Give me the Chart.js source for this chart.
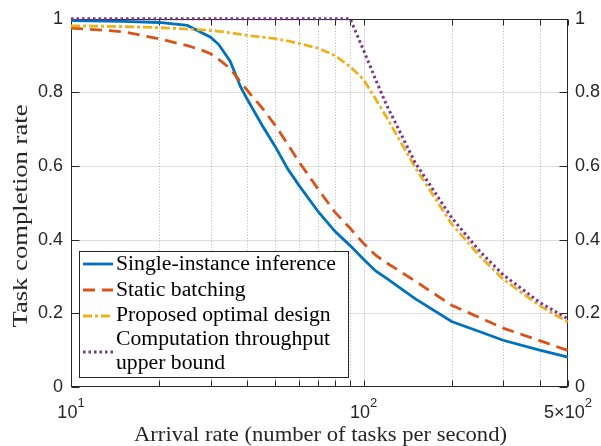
<!DOCTYPE html>
<html>
<head>
<meta charset="utf-8">
<script src="https://cdn.jsdelivr.net/npm/chart.js@4"></script>
<style>
    body { margin: 0; background: #fff; }
    #box { width: 601px; height: 446px; }
</style>
</head>
<body>
<div id="box"><canvas id="grafico"></canvas></div>

<script>
    // dati
    const rate = [10,15,20,25,28,30,32,35,38,40,45,50,55,60,70,80,90,100,110,120,150,200,250,300,400,500];
    const singleInst = [.995,.993,.99,.982,.962,.95,.93,.885,.815,.782,.711,.652,.593,.549,.476,.422,.384,.347,.315,.295,.24,.178,.15,.127,.10,.081];
    const staticBatch = [.975,.965,.946,.927,.915,.905,.89,.865,.828,.806,.758,.71,.66,.613,.537,.474,.431,.39,.358,.337,.288,.222,.188,.16,.126,.099];
    const proposed = [.981,.979,.976,.972,.97,.968,.966,.962,.958,.955,.95,.946,.94,.933,.92,.90,.87,.835,.782,.732,.597,.443,.355,.293,.221,.176];
    const upperBound = [1,1,1,1,1,1,1,1,1,1,1,1,1,1,1,1,1,.915,.835,.765,.61,.46,.368,.305,.23,.185];

    const serieNomi = ["Single-instance inference","Static batching","Proposed optimal design","Computation throughput upper bound"];
    const xTickVals = [10,20,30,40,50,60,70,80,90,100,200,300,400,500];
    const xTickBase = {10:["10","1"], 100:["10","2"], 500:["5\u00d710","2"]};
    const yTickVals = [0,0.2,0.4,0.6,0.8,1];

    const blu = "#0072BD", arancio = "#D95319", giallo = "#EDB120", viola = "#7E2F8E";
    const scuro = "#262626";
    const trattoArancio = [12,7], trattoGiallo = [9,3,3,3], trattoViola = [2.5,3];

    function punti(arr){
        return rate.map(function(x,i){ return {x:x, y:arr[i]}; });
    }

    function linea(ctx,x1,y1,x2,y2){
        ctx.beginPath(); ctx.moveTo(x1,y1); ctx.lineTo(x2,y2); ctx.stroke();
    }

    // testo allargato fino a una larghezza data (font tipo LaTeX)
    function testoLargo(ctx,t,x,y,sx){
        ctx.save(); ctx.translate(x,y); ctx.scale(sx,1); ctx.fillText(t,0,0); ctx.restore();
    }

    const cornice = {
        id: "cornice",
        beforeDatasetsDraw(chart){
            const ctx = chart.ctx, a = chart.chartArea, x = chart.scales.x, y = chart.scales.y;
            ctx.save();
            ctx.lineWidth = 1;
            ctx.strokeStyle = "#dedede";
            yTickVals.slice(1,-1).forEach(function(v){
                const py = Math.round(y.getPixelForValue(v))+0.5;
                linea(ctx,a.left,py,a.right,py);
            });
            xTickVals.forEach(function(v){
                if(v==10 || v==500) return;
                const px = Math.round(x.getPixelForValue(v))+0.5;
                if(v==100){
                    ctx.setLineDash([]); ctx.strokeStyle = "#dedede";
                }else{
                    ctx.setLineDash([1,2]); ctx.strokeStyle = "#b5b5b5";
                }
                linea(ctx,px,a.top,px,a.bottom);
            });
            ctx.setLineDash([]);
            ctx.strokeStyle = scuro; ctx.lineWidth = 1;
            const L = Math.round(a.left)+0.5, R = Math.round(a.right)-0.5;
            const T = Math.round(a.top)+0.5, B = Math.round(a.bottom)-0.5;
            ctx.strokeRect(L,T,R-L,B-T);
            // tacche verso l'interno
            xTickVals.forEach(function(v){
                const px = Math.round(x.getPixelForValue(v))+0.5;
                linea(ctx,px,B,px,B-6);
                linea(ctx,px,T,px,T+6);
            });
            yTickVals.forEach(function(v){
                const py = Math.round(y.getPixelForValue(v))+0.5;
                linea(ctx,L,py,L+8,py);
                linea(ctx,R,py,R-8,py);
            });
            ctx.restore();
        },
        afterDatasetsDraw(chart){
            const ctx = chart.ctx, x = chart.scales.x;
            ctx.save();
            // etichette asse x con esponente
            ctx.fillStyle = scuro;
            ctx.textBaseline = "alphabetic";
            Object.keys(xTickBase).forEach(function(k){
                const px = x.getPixelForValue(Number(k));
                const parti = xTickBase[k];
                ctx.font = "18px 'Liberation Sans'";
                const w1 = ctx.measureText(parti[0]).width;
                ctx.font = "13px 'Liberation Sans'";
                const w2 = ctx.measureText(parti[1]).width;
                const x0 = px-(w1+w2)/2;
                ctx.textAlign = "left";
                ctx.font = "18px 'Liberation Sans'";
                ctx.fillText(parti[0],x0,418);
                ctx.font = "13px 'Liberation Sans'";
                ctx.fillText(parti[1],x0+w1,407);
            });

            // titoli assi
            ctx.font = "20px 'Liberation Serif'";
            ctx.textAlign = "center";
            const tx = "Arrival rate (number of tasks per second)";
            testoLargo(ctx,tx,320.5,441,373/ctx.measureText(tx).width);
            const ty = "Task completion rate";
            ctx.save();
            ctx.translate(27,216);
            ctx.rotate(-Math.PI/2);
            testoLargo(ctx,ty,0,0,223/ctx.measureText(ty).width);
            ctx.restore();

            // legenda
            ctx.strokeStyle = scuro; ctx.lineWidth = 1;
            ctx.fillStyle = "#fff";
            ctx.fillRect(79.5,251.5,269,126);
            ctx.strokeRect(79.5,251.5,269,126);
            const campioni = [
                {c:blu, d:[], y:264},
                {c:arancio, d:trattoArancio, y:290},
                {c:giallo, d:trattoGiallo, y:316},
                {c:viola, d:trattoViola, y:352}
            ];
            campioni.forEach(function(s){
                ctx.strokeStyle = s.c; ctx.setLineDash(s.d);
                ctx.lineWidth = 2.8;
                linea(ctx,83,s.y,113,s.y);
            });
            ctx.setLineDash([]);
            ctx.fillStyle = "#000";
            ctx.textAlign = "left";
            ctx.font = "20px 'Liberation Serif'";
            const sx = 220/ctx.measureText(serieNomi[0]).width;
            const righe = [serieNomi[0],serieNomi[1],serieNomi[2],"Computation throughput","upper bound"];
            const basi = [270,296,321,345,369];
            righe.forEach(function(t,i){ testoLargo(ctx,t,116,basi[i],sx); });
            ctx.restore();
        }
    };

    function tickY(v){
        if(v==0) return "0";
        if(v==1) return "1";
        return v.toFixed(1);
    }

    new Chart("grafico", {
        type: "line",
        data: {
            datasets: [
                {label: serieNomi[0], data: punti(singleInst), borderColor: blu, borderWidth: 2.8, pointRadius: 0, order: 3, clip: 4},
                {label: serieNomi[1], data: punti(staticBatch), borderColor: arancio, borderWidth: 2.8, borderDash: trattoArancio, pointRadius: 0, order: 2, clip: 4},
                {label: serieNomi[2], data: punti(proposed), borderColor: giallo, borderWidth: 2.8, borderDash: trattoGiallo, pointRadius: 0, order: 1, clip: 4},
                {label: serieNomi[3], data: punti(upperBound), borderColor: viola, borderWidth: 3, borderDash: trattoViola, pointRadius: 0, order: 0, clip: 4}
            ]
        },
        options: {
            responsive: true,
            maintainAspectRatio: false,
            animation: false,
            layout: {padding: {top: 12, right: 0, left: 0, bottom: 0}},
            plugins: {legend: {display: false}, tooltip: {enabled: false}},
            scales: {
                x: {
                    type: "logarithmic", min: 10, max: 500,
                    afterBuildTicks: function(s){ s.ticks = xTickVals.map(function(v){ return {value: v}; }); },
                    afterFit: function(s){ s.height = 59; },
                    ticks: {display: false},
                    grid: {display: false, drawTicks: false},
                    border: {display: false}
                },
                y: {
                    min: 0, max: 1,
                    afterBuildTicks: function(s){ s.ticks = yTickVals.map(function(v){ return {value: v}; }); },
                    afterFit: function(s){ s.width = 71; },
                    ticks: {callback: tickY, padding: 8, color: scuro, font: {family: "Liberation Sans", size: 18}},
                    grid: {display: false, drawTicks: false},
                    border: {display: false}
                },
                y2: {
                    position: "right", min: 0, max: 1,
                    afterBuildTicks: function(s){ s.ticks = yTickVals.map(function(v){ return {value: v}; }); },
                    afterFit: function(s){ s.width = 33; },
                    ticks: {callback: tickY, padding: 7, color: scuro, font: {family: "Liberation Sans", size: 18}},
                    grid: {display: false, drawTicks: false},
                    border: {display: false}
                }
            }
        },
        plugins: [cornice]
    });
</script>
</body>
</html>
